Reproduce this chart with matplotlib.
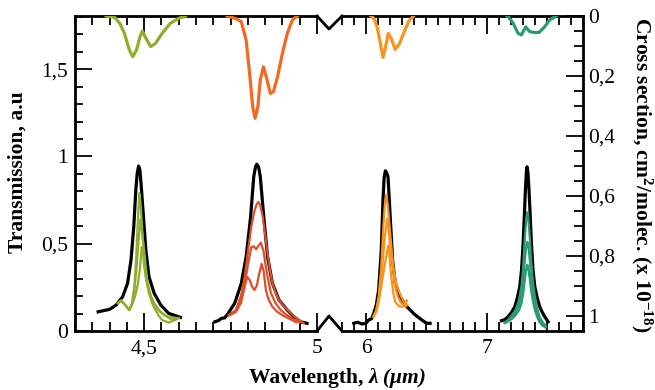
import matplotlib
matplotlib.use('Agg')
import matplotlib.pyplot as plt
from matplotlib.ticker import FixedLocator, MultipleLocator, FuncFormatter
from matplotlib.lines import Line2D

plt.rcParams['font.family'] = ['Liberation Serif', 'DejaVu Serif']
plt.rcParams['mathtext.fontset'] = 'custom'
plt.rcParams['mathtext.rm'] = 'Liberation Serif'
plt.rcParams['mathtext.bf'] = 'Liberation Serif:bold'
plt.rcParams['mathtext.it'] = 'Liberation Serif:italic'

# colours
olive = '#8fae2c'
orange_cs = '#f26a21'
red_t = '#dd4f2a'
orange2 = '#f7931e'
teal = '#2b9a77'

# ---- cross section (right axis, x 1e-18 cm2/molec) ----
cs_green_x = [4.39, 4.415, 4.43, 4.443, 4.457, 4.467, 4.478, 4.488, 4.495, 4.505, 4.519, 4.533, 4.552, 4.576, 4.6, 4.62]
cs_green_y = [0, 0.005, 0.025, 0.058, 0.113, 0.136, 0.113, 0.069, 0.05, 0.074, 0.102, 0.091, 0.058, 0.024, 0.008, 0]

cs_orange_x = [4.74, 4.752, 4.768, 4.781, 4.795, 4.805, 4.814, 4.821, 4.829, 4.836, 4.845, 4.853, 4.865, 4.874, 4.886, 4.9, 4.914, 4.929, 4.943]
cs_orange_y = [0, 0.004, 0.01, 0.019, 0.08, 0.191, 0.302, 0.341, 0.302, 0.213, 0.169, 0.202, 0.258, 0.252, 0.202, 0.124, 0.058, 0.013, 0]

cs_orange2_x = [6.04, 6.05, 6.07, 6.091, 6.118, 6.14, 6.162, 6.184, 6.207, 6.242, 6.278, 6.311, 6.352, 6.393]
cs_orange2_y = [0, 0.002, 0.012, 0.036, 0.091, 0.138, 0.102, 0.058, 0.074, 0.111, 0.091, 0.058, 0.019, 0]

cs_teal_x = [7.17, 7.179, 7.22, 7.261, 7.289, 7.324, 7.357, 7.399, 7.435, 7.482, 7.523, 7.579]
cs_teal_y = [0, 0.002, 0.024, 0.058, 0.063, 0.036, 0.052, 0.055, 0.055, 0.036, 0.013, 0]

# ---- transmission (left axis) ----
bk1_x = [4.367, 4.40, 4.419, 4.438, 4.452, 4.462, 4.47, 4.476, 4.48, 4.484, 4.4875, 4.491, 4.498, 4.505, 4.514, 4.529, 4.548, 4.571, 4.605]
bk1_y = [0.11, 0.124, 0.149, 0.197, 0.273, 0.407, 0.597, 0.81, 0.905, 0.945, 0.925, 0.846, 0.655, 0.464, 0.311, 0.216, 0.149, 0.101, 0.078]

g1_x = [4.424, 4.433, 4.445, 4.457, 4.465, 4.472, 4.477, 4.482, 4.486, 4.49, 4.495, 4.50, 4.505, 4.512, 4.519, 4.53, 4.543, 4.557, 4.571, 4.585, 4.6]
g1_y = [0.16, 0.174, 0.15, 0.12, 0.16, 0.26, 0.42, 0.64, 0.79, 0.72, 0.56, 0.42, 0.31, 0.24, 0.197, 0.155, 0.12, 0.095, 0.082, 0.076, 0.074]
g2_x = [4.424, 4.433, 4.445, 4.457, 4.465, 4.472, 4.478, 4.484, 4.489, 4.493, 4.5, 4.505, 4.51, 4.52, 4.529, 4.543, 4.557, 4.575, 4.59]
g2_y = [0.16, 0.174, 0.15, 0.12, 0.155, 0.24, 0.36, 0.52, 0.64, 0.58, 0.464, 0.36, 0.273, 0.2, 0.159, 0.115, 0.092, 0.07, 0.063]
g3_x = [4.424, 4.433, 4.445, 4.457, 4.465, 4.474, 4.482, 4.488, 4.493, 4.497, 4.50, 4.507, 4.514, 4.523, 4.533, 4.543, 4.552, 4.571, 4.585, 4.6]
g3_y = [0.16, 0.174, 0.15, 0.12, 0.15, 0.2, 0.27, 0.36, 0.48, 0.45, 0.37, 0.28, 0.216, 0.16, 0.12, 0.085, 0.063, 0.048, 0.06, 0.073]

bk2_x = [4.705, 4.715, 4.724, 4.733, 4.743, 4.762, 4.781, 4.795, 4.808, 4.817, 4.822, 4.826, 4.831, 4.836, 4.846, 4.857, 4.871, 4.89, 4.914, 4.933, 4.952, 4.971]
bk2_y = [0.053, 0.06, 0.073, 0.075, 0.101, 0.159, 0.273, 0.425, 0.655, 0.884, 0.94, 0.956, 0.94, 0.884, 0.655, 0.425, 0.273, 0.178, 0.12, 0.082, 0.053, 0.044]

r1_x = [4.745, 4.765, 4.78, 4.79, 4.80, 4.81, 4.818, 4.824, 4.83, 4.836, 4.843, 4.85, 4.857, 4.864, 4.871, 4.88, 4.89, 4.905, 4.92, 4.94, 4.962]
r1_y = [0.09, 0.12, 0.2, 0.3, 0.45, 0.6, 0.68, 0.72, 0.74, 0.72, 0.655, 0.55, 0.445, 0.35, 0.273, 0.22, 0.178, 0.14, 0.11, 0.075, 0.044]
r2_x = [4.745, 4.765, 4.78, 4.79, 4.80, 4.81, 4.817, 4.824, 4.831, 4.838, 4.845, 4.852, 4.86, 4.867, 4.88, 4.895, 4.91, 4.93, 4.95]
r2_y = [0.09, 0.11, 0.17, 0.25, 0.38, 0.48, 0.485, 0.468, 0.49, 0.506, 0.46, 0.368, 0.28, 0.216, 0.16, 0.12, 0.095, 0.07, 0.05]
r3_x = [4.745, 4.765, 4.78, 4.79, 4.798, 4.806, 4.812, 4.819, 4.826, 4.833, 4.84, 4.846, 4.852, 4.86, 4.871, 4.885, 4.9, 4.92, 4.94]
r3_y = [0.09, 0.11, 0.16, 0.25, 0.31, 0.29, 0.255, 0.235, 0.26, 0.33, 0.385, 0.34, 0.235, 0.18, 0.139, 0.11, 0.09, 0.07, 0.05]

bk3_x = [5.898, 5.93, 5.967, 6.0, 6.021, 6.045, 6.063, 6.085, 6.104, 6.126, 6.14, 6.15, 6.16, 6.168, 6.182, 6.2, 6.22, 6.242, 6.283, 6.339, 6.393, 6.43, 6.463, 6.5, 6.531]
bk3_y = [0.044, 0.05, 0.04, 0.045, 0.063, 0.07, 0.101, 0.15, 0.235, 0.464, 0.75, 0.88, 0.918, 0.91, 0.884, 0.655, 0.407, 0.273, 0.196, 0.139, 0.101, 0.08, 0.063, 0.045, 0.044]

o1_x = [6.06, 6.085, 6.105, 6.125, 6.14, 6.155, 6.168, 6.18, 6.19, 6.2, 6.214, 6.228, 6.248, 6.269, 6.295, 6.319, 6.34]
o1_y = [0.08, 0.12, 0.2, 0.36, 0.56, 0.72, 0.78, 0.72, 0.64, 0.56, 0.45, 0.36, 0.28, 0.235, 0.19, 0.159, 0.15]
o2_x = [6.06, 6.085, 6.105, 6.125, 6.14, 6.155, 6.168, 6.179, 6.19, 6.2, 6.215, 6.242, 6.262, 6.283, 6.305, 6.325, 6.34]
o2_y = [0.08, 0.12, 0.19, 0.3, 0.42, 0.54, 0.6, 0.645, 0.56, 0.48, 0.407, 0.25, 0.2, 0.168, 0.15, 0.139, 0.15]
o3_x = [6.06, 6.085, 6.105, 6.125, 6.14, 6.155, 6.17, 6.184, 6.195, 6.205, 6.215, 6.23, 6.242, 6.262, 6.283, 6.305, 6.325, 6.34]
o3_y = [0.08, 0.11, 0.17, 0.25, 0.32, 0.38, 0.44, 0.49, 0.42, 0.34, 0.27, 0.2, 0.168, 0.15, 0.139, 0.14, 0.16, 0.175]

bk4_x = [7.124, 7.15, 7.179, 7.21, 7.234, 7.255, 7.275, 7.29, 7.303, 7.313, 7.322, 7.33, 7.336, 7.343, 7.352, 7.362, 7.372, 7.385, 7.4, 7.42, 7.441, 7.46, 7.482, 7.51]
bk4_y = [0.059, 0.065, 0.082, 0.11, 0.139, 0.19, 0.254, 0.35, 0.502, 0.66, 0.808, 0.91, 0.941, 0.91, 0.808, 0.66, 0.502, 0.35, 0.254, 0.19, 0.139, 0.11, 0.082, 0.053]

tl_x = [7.15, 7.18, 7.21, 7.24, 7.27, 7.29, 7.305, 7.318, 7.33, 7.338, 7.346, 7.358, 7.37, 7.385, 7.4, 7.42, 7.44, 7.465, 7.49]
t1_y = [0.05, 0.065, 0.09, 0.12, 0.18, 0.26, 0.38, 0.54, 0.65, 0.68, 0.65, 0.54, 0.4, 0.28, 0.2, 0.13, 0.08, 0.05, 0.03]
t2_y = [0.05, 0.06, 0.08, 0.105, 0.15, 0.21, 0.3, 0.41, 0.49, 0.51, 0.49, 0.41, 0.31, 0.22, 0.16, 0.1, 0.06, 0.04, 0.025]
t3_y = [0.045, 0.055, 0.07, 0.09, 0.12, 0.16, 0.22, 0.3, 0.36, 0.38, 0.36, 0.3, 0.23, 0.17, 0.12, 0.08, 0.05, 0.03, 0.02]

W, H = 655, 390
fig = plt.figure(figsize=(W / 100, H / 100), dpi=100)
ax1 = fig.add_axes([75 / W, 59 / H, 242 / W, 315 / H])
ax2 = fig.add_axes([342 / W, 59 / H, 241 / W, 315 / H])
ax1c = ax1.twinx()
ax2c = ax2.twinx()

comma = FuncFormatter(lambda v, p: f'{v:g}'.replace('.', ','))

lw_t = 1.6
lw_k = 2.3
lw_cs = 2.3

# left panel
ax1.plot(bk1_x, bk1_y, color='black', lw=lw_k, zorder=2)
for yy, xx in [(g1_y, g1_x), (g2_y, g2_x), (g3_y, g3_x)]:
    ax1.plot(xx, yy, color=olive, lw=lw_t, zorder=3)
ax1.plot(bk2_x, bk2_y, color='black', lw=lw_k, zorder=2)
for yy, xx in [(r1_y, r1_x), (r2_y, r2_x), (r3_y, r3_x)]:
    ax1.plot(xx, yy, color=red_t, lw=lw_t, zorder=3)
ax1c.plot(cs_green_x, cs_green_y, color=olive, lw=lw_cs)
ax1c.plot(cs_orange_x, cs_orange_y, color=orange_cs, lw=lw_cs)

# right panel
ax2.plot(bk3_x, bk3_y, color='black', lw=lw_k, zorder=2)
for yy, xx in [(o1_y, o1_x), (o2_y, o2_x), (o3_y, o3_x)]:
    ax2.plot(xx, yy, color=orange2, lw=lw_t, zorder=3)
ax2.plot(bk4_x, bk4_y, color='black', lw=lw_k, zorder=2)
for yy in [t1_y, t2_y, t3_y]:
    ax2.plot(tl_x, yy, color=teal, lw=lw_t, zorder=3)
ax2c.plot(cs_orange2_x, cs_orange2_y, color=orange2, lw=lw_cs)
ax2c.plot(cs_teal_x, cs_teal_y, color=teal, lw=lw_cs)

# limits
ax1.set_xlim(4.3, 5.0)
ax2.set_xlim(5.8, 7.8)
for a in (ax1, ax2):
    a.set_ylim(0, 1.805)
for a in (ax1c, ax2c):
    a.set_ylim(1.05, 0)

# spines
for a in (ax1, ax2, ax1c, ax2c):
    for s in a.spines.values():
        s.set_linewidth(2)
ax1.spines['right'].set_visible(False)
ax2.spines['left'].set_visible(False)
ax2.spines['right'].set_visible(False)
for s in ax1c.spines.values():
    s.set_visible(False)
for k in ('left', 'top', 'bottom'):
    ax2c.spines[k].set_visible(False)

# ticks
ax1.xaxis.set_major_locator(FixedLocator([4.5, 5.0]))
ax1.xaxis.set_minor_locator(MultipleLocator(0.05))
ax2.xaxis.set_major_locator(FixedLocator([6, 7]))
ax2.xaxis.set_minor_locator(MultipleLocator(0.1))
ax1.yaxis.set_major_locator(FixedLocator([0, 0.5, 1, 1.5]))
ax1.yaxis.set_minor_locator(MultipleLocator(0.1))
ax2c.yaxis.set_major_locator(FixedLocator([0, 0.2, 0.4, 0.6, 0.8, 1.0]))
ax2c.yaxis.set_minor_locator(MultipleLocator(0.05))
for a in (ax1, ax2, ax2c):
    a.xaxis.set_major_formatter(comma)
    a.yaxis.set_major_formatter(comma)

for a in (ax1, ax2):
    a.tick_params(axis='x', which='both', direction='in', top=True, bottom=True, width=1.3, labelsize=15.5, pad=6)
    a.tick_params(axis='x', which='major', length=13)
    a.tick_params(axis='x', which='minor', length=6.5)
ax1.tick_params(axis='y', which='both', direction='in', left=True, right=False, width=1.3, labelsize=15.5, pad=5)
ax1.tick_params(axis='y', which='major', length=12)
ax1.tick_params(axis='y', which='minor', length=6)
ax2.tick_params(axis='y', which='both', left=False, right=False, labelleft=False)
ax1c.tick_params(axis='y', which='both', left=False, right=False, labelright=False)
ax2c.tick_params(axis='y', which='both', direction='in', right=True, width=1.3, labelsize=15.5, pad=4)
ax2c.tick_params(axis='y', which='major', length=12)
ax2c.tick_params(axis='y', which='minor', length=6.5)

# break marks
def fx(px):
    return px / W


def fy(py):
    return 1 - py / H


fig.add_artist(Line2D([fx(317), fx(329), fx(342)], [fy(16), fy(29), fy(16)],
                      transform=fig.transFigure, color='black', lw=2))
fig.add_artist(Line2D([fx(317), fx(329), fx(342)], [fy(331), fy(316), fy(331)],
                      transform=fig.transFigure, color='black', lw=2))

# labels
fig.text(fx(18), fy(172), 'Transmission, a.u', rotation=90, ha='center', va='center',
         fontsize=15.5, fontweight='bold')
fig.text(fx(642), fy(175), r'Cross section, cm$^{\mathbf{2}}$/molec. (x 10$^{\mathbf{-18}}$)',
         rotation=270, ha='center', va='center', fontsize=15.5, fontweight='bold')
fig.text(fx(369), fy(378), 'Wavelength, ', ha='right', va='center', fontsize=15.5, fontweight='bold')
fig.text(fx(369), fy(378), 'λ (μm)', ha='left', va='center', fontsize=15.5, fontweight='bold',
         fontstyle='italic')

fig.savefig('out.png', dpi=100)
